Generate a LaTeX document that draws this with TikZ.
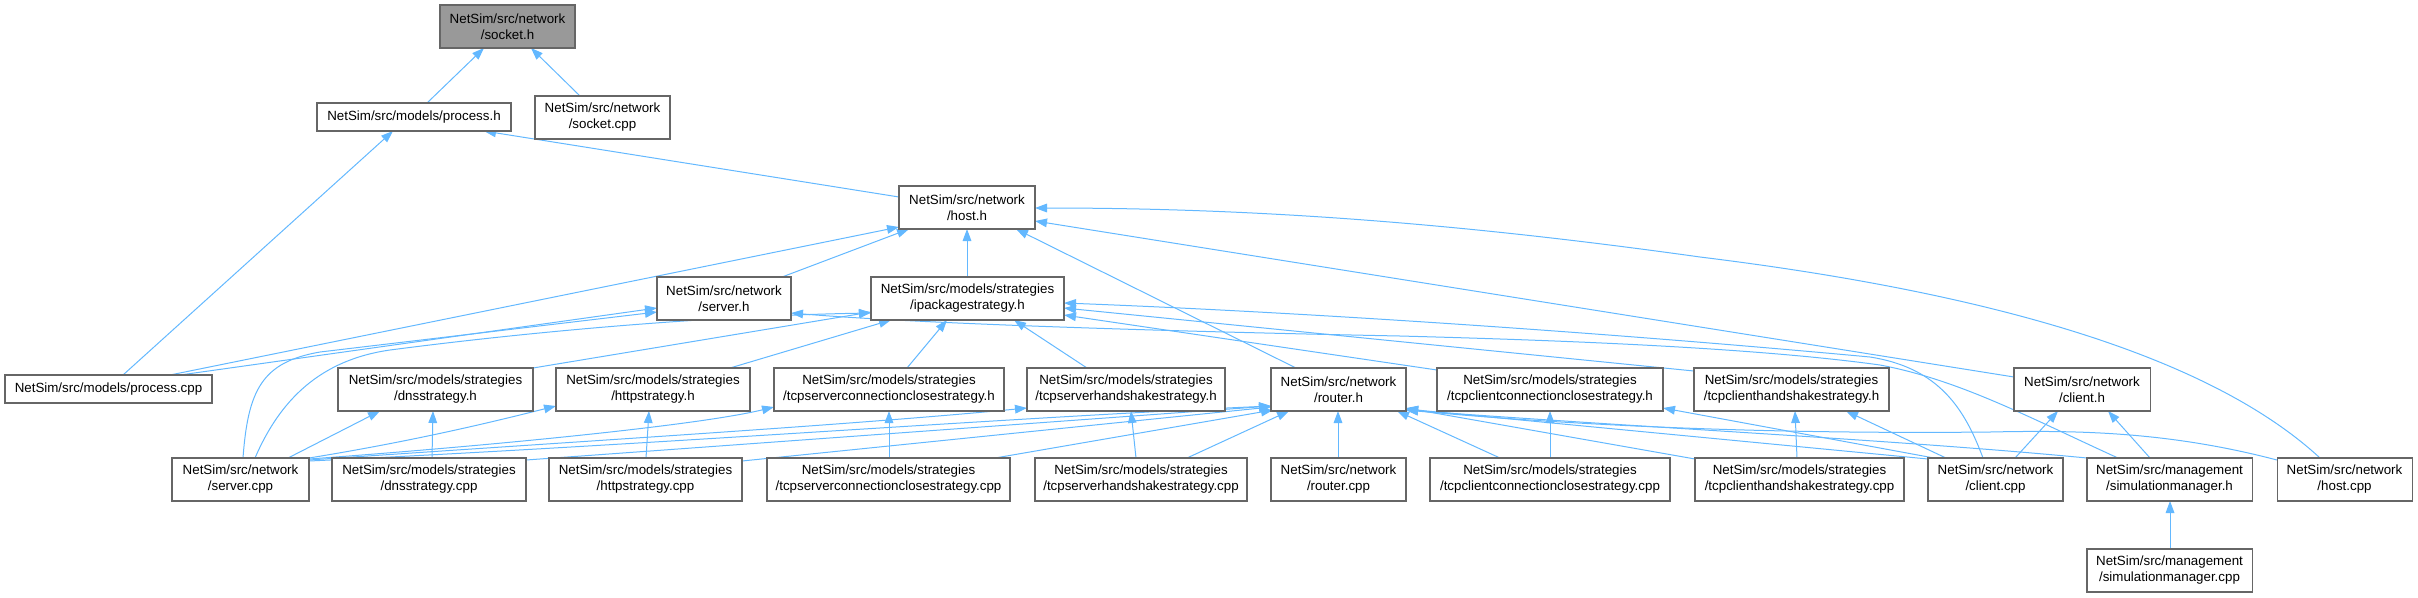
\documentclass[tikz,border=0pt]{standalone}
\usepackage{fontspec}
\setmainfont{Liberation Sans}
\usetikzlibrary{arrows.meta,calc}
\definecolor{edgec}{HTML}{63B8FF}
\definecolor{bordc}{HTML}{666666}
\definecolor{rootc}{HTML}{999999}
\pgfdeclarelayer{bg}
\pgfsetlayers{bg,main}
\tikzset{
  box/.style={draw=bordc, line width=0.8pt, fill=white, inner sep=0pt, outer sep=0pt,
    align=center, font=\fontsize{10}{12}\selectfont, text=black},
  rootbox/.style={box, fill=rootc},
  dep/.style={draw=edgec, line width=0.75pt, -{Triangle[length=9pt,width=6.5pt]}},
}
\newcommand\nbox[7][]{\node[box,#1,minimum width={(#4-#2)*0.75pt},minimum height={(#5-#3)*0.75pt}] (#6) at ({(#2+#4)/2},{(#3+#5)/2}) {#7};}
\newcommand\rel[3]{($(#1.north west)+(#2,#3)$)}
\begin{document}
\begin{tikzpicture}[x=0.75pt,y=-0.75pt]
\useasboundingbox (0,0) rectangle (2418,597);
% row 0-3
\nbox[rootbox]{440}{5}{575}{48}{socket_h}{NetSim/src/network\\/socket.h}
\nbox{317}{103}{511}{131}{process_h}{NetSim/src/models/process.h}
\nbox{535}{96}{670}{139}{socket_cpp}{NetSim/src/network\\/socket.cpp}
\nbox{899}{186}{1035}{229}{host_h}{NetSim/src/network\\/host.h}
\nbox{657}{277}{791}{320}{server_h}{NetSim/src/network\\/server.h}
\nbox{871}{277}{1064}{320}{ipack_h}{NetSim/src/models/strategies\\/ipackagestrategy.h}
% row 4
\nbox{5}{375}{212}{403}{process_cpp}{NetSim/src/models/process.cpp}
\nbox{338}{368}{533}{411}{dns_h}{NetSim/src/models/strategies\\/dnsstrategy.h}
\nbox{556}{368}{750}{411}{http_h}{NetSim/src/models/strategies\\/httpstrategy.h}
\nbox{774}{368}{1004}{411}{tscc_h}{NetSim/src/models/strategies\\/tcpserverconnectionclosestrategy.h}
\nbox{1027}{368}{1225}{411}{tshs_h}{NetSim/src/models/strategies\\/tcpserverhandshakestrategy.h}
\nbox{1271}{368}{1406}{411}{router_h}{NetSim/src/network\\/router.h}
\nbox{1437}{368}{1663}{411}{tccc_h}{NetSim/src/models/strategies\\/tcpclientconnectionclosestrategy.h}
\nbox{1694}{368}{1889}{411}{tchs_h}{NetSim/src/models/strategies\\/tcpclienthandshakestrategy.h}
\nbox{2014}{368}{2150}{411}{client_h}{NetSim/src/network\\/client.h}
% row 5
\nbox{172}{458}{309}{501}{server_cpp}{NetSim/src/network\\/server.cpp}
\nbox{332}{458}{526}{501}{dns_cpp}{NetSim/src/models/strategies\\/dnsstrategy.cpp}
\nbox{549}{458}{742}{501}{http_cpp}{NetSim/src/models/strategies\\/httpstrategy.cpp}
\nbox{767}{458}{1010}{501}{tscc_cpp}{NetSim/src/models/strategies\\/tcpserverconnectionclosestrategy.cpp}
\nbox{1035}{458}{1247}{501}{tshs_cpp}{NetSim/src/models/strategies\\/tcpserverhandshakestrategy.cpp}
\nbox{1271}{458}{1406}{501}{router_cpp}{NetSim/src/network\\/router.cpp}
\nbox{1430}{458}{1670}{501}{tccc_cpp}{NetSim/src/models/strategies\\/tcpclientconnectionclosestrategy.cpp}
\nbox{1695}{458}{1904}{501}{tchs_cpp}{NetSim/src/models/strategies\\/tcpclienthandshakestrategy.cpp}
\nbox{1928}{458}{2063}{501}{client_cpp}{NetSim/src/network\\/client.cpp}
\nbox{2087}{458}{2252}{501}{simmgr_h}{NetSim/src/management\\/simulationmanager.h}
\nbox{2277}{458}{2412}{501}{host_cpp}{NetSim/src/network\\/host.cpp}
% row 6
\nbox{2087}{549}{2252}{592}{simmgr_cpp}{NetSim/src/management\\/simulationmanager.cpp}

\begin{pgfonlayer}{bg}
\draw[dep] \rel{process_h}{110}{0} -- \rel{socket_h}{44}{43};
\draw[dep] \rel{socket_cpp}{45}{0} -- \rel{socket_h}{91}{43};
\draw[dep] \rel{process_cpp}{118}{0} -- \rel{process_h}{76}{28};
\draw[dep] \rel{host_h}{0}{11} -- \rel{process_h}{167}{28};
\draw[dep] \rel{process_cpp}{165}{0} -- \rel{host_h}{0}{41};
\draw[dep] \rel{process_cpp}{175}{0} -- \rel{server_h}{0}{31};
\draw[dep] \rel{server_h}{125}{0} -- \rel{host_h}{10}{43};
\draw[dep] \rel{ipack_h}{96}{0} -- \rel{host_h}{68}{43};
% server.cpp
\draw[dep] \rel{server_cpp}{71}{0} .. controls (248,390) and (262,362) .. (320,352) -- \rel{server_h}{0}{35};
\draw[dep] \rel{server_cpp}{83}{0} .. controls (280,400) and (320,360) .. (390,350) .. controls (520,333) and (700,316) .. \rel{ipack_h}{0}{36};
\draw[dep] \rel{server_cpp}{116}{0} -- \rel{dns_h}{42}{43};
\draw[dep] \rel{server_cpp}{137}{0} .. controls (420,440) and (500,420) .. \rel{http_h}{0}{38};
\draw[dep] \rel{server_cpp}{137}{1} .. controls (500,445) and (700,425) .. \rel{tscc_h}{0}{39};
\draw[dep] \rel{server_cpp}{137}{2} .. controls (600,440) and (850,425) .. \rel{tshs_h}{0}{40};
\draw[dep] \rel{server_cpp}{137}{3} .. controls (650,445) and (1000,418) .. \rel{router_h}{0}{38};
% strategies headers -> ipackagestrategy.h
\draw[dep] \rel{dns_h}{195}{0} -- \rel{ipack_h}{0}{35};
\draw[dep] \rel{http_h}{174}{0} -- \rel{ipack_h}{20}{43};
\draw[dep] \rel{tscc_h}{133}{0} -- \rel{ipack_h}{76}{43};
\draw[dep] \rel{tshs_h}{60}{0} -- \rel{ipack_h}{143}{43};
\draw[dep] \rel{tccc_h}{0}{2} -- \rel{ipack_h}{193}{38};
\draw[dep] \rel{tchs_h}{0}{3} -- \rel{ipack_h}{193}{31};
% cpp -> own headers
\draw[dep] \rel{dns_cpp}{100}{0} -- \rel{dns_h}{95}{43};
\draw[dep] \rel{http_cpp}{97}{0} -- \rel{http_h}{93}{43};
\draw[dep] \rel{tscc_cpp}{122}{0} -- \rel{tscc_h}{115}{43};
\draw[dep] \rel{tshs_cpp}{101}{0} -- \rel{tshs_h}{104}{43};
\draw[dep] \rel{router_cpp}{67}{0} -- \rel{router_h}{67}{43};
\draw[dep] \rel{tccc_cpp}{120}{0} -- \rel{tccc_h}{113}{43};
\draw[dep] \rel{tchs_cpp}{102}{0} -- \rel{tchs_h}{101}{43};
\draw[dep] \rel{simmgr_cpp}{83}{0} -- \rel{simmgr_h}{83}{43};
% -> router.h
\draw[dep] \rel{dns_cpp}{194}{2} -- \rel{router_h}{0}{38};
\draw[dep] \rel{http_cpp}{193}{3} -- \rel{router_h}{0}{39};
\draw[dep] \rel{tscc_cpp}{228}{0} -- \rel{router_h}{2}{42};
\draw[dep] \rel{tshs_cpp}{152}{0} -- \rel{router_h}{18}{43};
\draw[dep] \rel{tccc_cpp}{70}{0} -- \rel{router_h}{126}{43};
\draw[dep] \rel{tchs_cpp}{0}{1} -- \rel{router_h}{135}{40};
\draw[dep] \rel{client_cpp}{0}{1} -- \rel{router_h}{135}{41};
\draw[dep] \rel{simmgr_h}{0}{0} .. controls (1900,440) and (1650,428) .. \rel{router_h}{135}{42};
\draw[dep] \rel{host_cpp}{0}{2} .. controls (2170,432) and (2080,430) .. (1990,432) .. controls (1800,434) and (1600,428) .. \rel{router_h}{135}{42};
\draw[dep] \rel{router_h}{25}{0} -- \rel{host_h}{117}{43};
% client side
\draw[dep] \rel{client_h}{0}{9} -- \rel{host_h}{136}{35};
\draw[dep] \rel{client_cpp}{87}{0} -- \rel{client_h}{44}{43};
\draw[dep] \rel{client_cpp}{18}{0} -- \rel{tchs_h}{152}{43};
\draw[dep] \rel{client_cpp}{6}{0} -- \rel{tccc_h}{226}{40};
\draw[dep] \rel{client_cpp}{55}{0} .. controls (1965,410) and (1940,368) .. (1870,357) .. controls (1600,332) and (1300,312) .. \rel{ipack_h}{193}{26};
\draw[dep] \rel{simmgr_h}{63}{0} -- \rel{client_h}{94}{43};
\draw[dep] \rel{simmgr_h}{31}{0} .. controls (2030,418) and (1960,380) .. (1880,365) .. controls (1750,347) and (1550,340) .. (1400,336) .. controls (1100,330) and (900,322) .. \rel{server_h}{134}{36};
\draw[dep] \rel{host_cpp}{43}{0} .. controls (2230,375) and (2050,300) .. (1700,257) .. controls (1450,222) and (1250,208) .. \rel{host_h}{136}{22};
\end{pgfonlayer}
\end{tikzpicture}
\end{document}
